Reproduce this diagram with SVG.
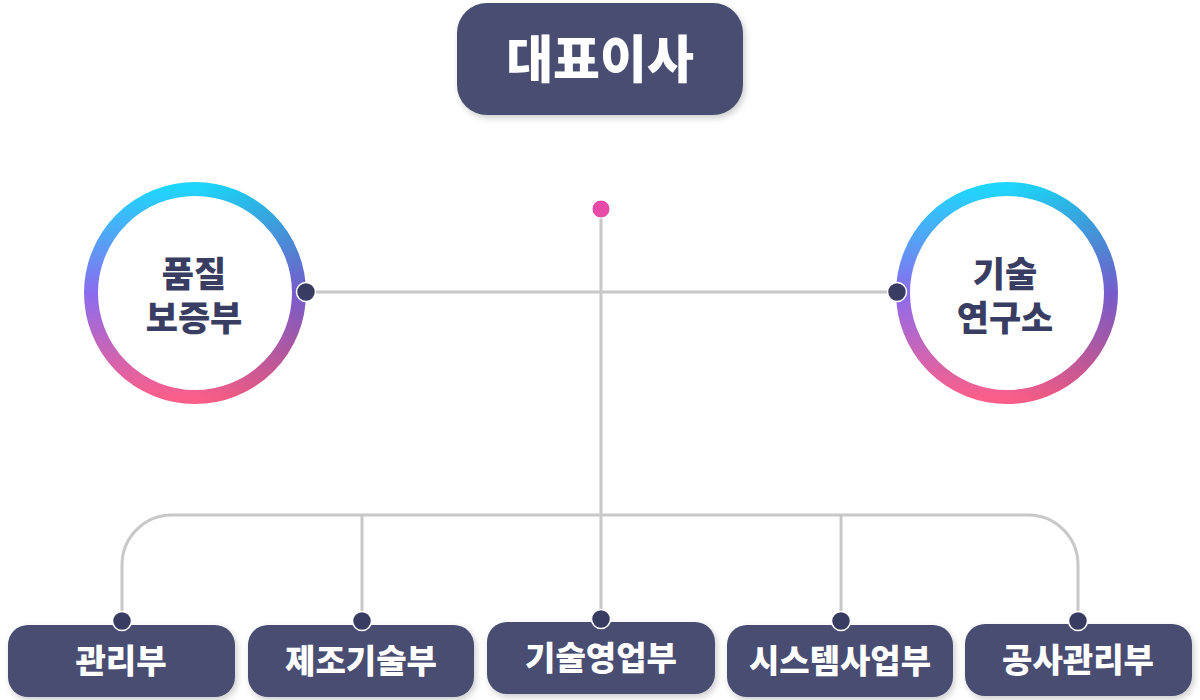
<svg xmlns="http://www.w3.org/2000/svg" width="1200" height="700" viewBox="0 0 1200 700">
<style>
.box{fill:#484d72;}
.wt{fill:#ffffff;font-family:"Noto Sans CJK KR","Noto Sans",sans-serif;font-weight:900;text-anchor:middle;}
.ct{fill:#393d62;font-family:"Liberation Sans","Noto Sans CJK KR",sans-serif;font-weight:900;font-size:35px;text-anchor:middle;}
.ln{fill:none;stroke:#c8c8c8;stroke-width:3;}
.dot{fill:#383c62;stroke:#ffffff;stroke-width:1.5;}
</style>
<defs>
<linearGradient id="ring" x1="0" y1="0" x2="0" y2="1">
<stop offset="0" stop-color="#20d5fc"/>
<stop offset="0.5" stop-color="#8b6cef"/>
<stop offset="1" stop-color="#fa5f8a"/>
</linearGradient>
<linearGradient id="shade" x1="0" y1="0" x2="1" y2="0">
<stop offset="0.5" stop-color="#000" stop-opacity="0"/>
<stop offset="1" stop-color="#000" stop-opacity="0.15"/>
</linearGradient>
<filter id="sh" x="-20%" y="-20%" width="140%" height="150%">
<feDropShadow dx="2" dy="3" stdDeviation="3" flood-color="#000" flood-opacity="0.2"/>
</filter>
</defs>
<g id="connectors">
<line class="ln" x1="306" y1="292" x2="897" y2="292"/>
<line class="ln" x1="601" y1="209" x2="601" y2="619"/>
<path class="ln" d="M122 620 V565 A50 50 0 0 1 172 515 H1028 A50 50 0 0 1 1078 565 V620"/>
<line class="ln" x1="362" y1="515" x2="362" y2="620"/>
<line class="ln" x1="841" y1="515" x2="841" y2="620"/>
</g>
<g id="ceo">
<rect class="box" x="457" y="3" width="286" height="112" rx="30" filter="url(#sh)"/>
<text class="wt" x="600" y="78" font-size="51">대표이사</text>
<circle cx="601" cy="209" r="9" fill="#e94aa7" stroke="#fff" stroke-width="1"/>
</g>
<g id="quality">
<circle cx="195" cy="293" r="104" fill="#fff" stroke="url(#ring)" stroke-width="14"/>
<circle cx="195" cy="293" r="104" fill="none" stroke="url(#shade)" stroke-width="14"/>
<text class="ct"><tspan x="194" y="287">품질</tspan><tspan x="194" y="331">보증부</tspan></text>
<circle class="dot" cx="306" cy="292" r="9.5"/>
</g>
<g id="research">
<circle cx="1007" cy="293" r="104" fill="#fff" stroke="url(#ring)" stroke-width="14"/>
<circle cx="1007" cy="293" r="104" fill="none" stroke="url(#shade)" stroke-width="14"/>
<text class="ct"><tspan x="1005" y="287">기술</tspan><tspan x="1005" y="331">연구소</tspan></text>
<circle class="dot" cx="897" cy="292" r="9.5"/>
</g>
<g id="admin">
<rect class="box" x="8" y="625" width="227" height="72" rx="20" filter="url(#sh)"/>
<text class="wt" x="121" y="673" font-size="33">관리부</text>
<circle class="dot" cx="122" cy="621" r="9.5"/>
</g>
<g id="manufacturing">
<rect class="box" x="248" y="625" width="226" height="72" rx="20" filter="url(#sh)"/>
<text class="wt" x="361" y="673" font-size="33">제조기술부</text>
<circle class="dot" cx="362" cy="621" r="9.5"/>
</g>
<g id="sales">
<rect class="box" x="487" y="622" width="228" height="72" rx="20" filter="url(#sh)"/>
<text class="wt" x="601" y="670" font-size="33">기술영업부</text>
<circle class="dot" cx="601" cy="619" r="9.5"/>
</g>
<g id="system">
<rect class="box" x="727" y="625" width="226" height="72" rx="20" filter="url(#sh)"/>
<text class="wt" x="840" y="673" font-size="33">시스템사업부</text>
<circle class="dot" cx="841" cy="621" r="9.5"/>
</g>
<g id="construction">
<rect class="box" x="965" y="624" width="227" height="72" rx="20" filter="url(#sh)"/>
<text class="wt" x="1078" y="672" font-size="33">공사관리부</text>
<circle class="dot" cx="1078" cy="621" r="9.5"/>
</g>
</svg>
